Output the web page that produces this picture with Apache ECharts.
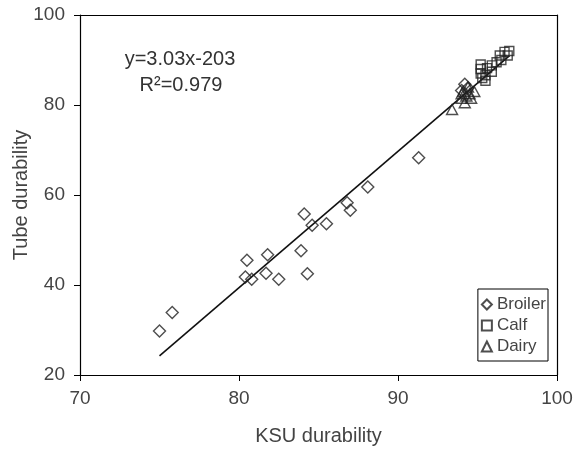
<!DOCTYPE html>
<html><head><meta charset="utf-8">
<script src="https://cdn.jsdelivr.net/npm/echarts@6/dist/echarts.min.js"></script>
<style>html,body{margin:0;padding:0;background:#fff}#c{width:573px;height:449px}</style>
</head><body><div id="c"></div>
<script>
// KSU durability (x), Tube durability (y)
const broiler = [
  [75.0,29.8],[75.8,33.9],[80.4,41.8],[80.5,45.5],[80.8,41.3],[81.8,46.7],[81.7,42.6],
  [82.5,41.3],[83.9,47.6],[84.3,42.5],[84.1,55.8],[84.6,53.3],[85.5,53.6],[86.8,58.3],
  [87.0,56.6],[88.1,61.8],[91.3,68.3],[94.2,84.6],[94.4,83.8],[94.0,83.2]
];
const calf = [
  [95.2,89.0],[95.2,88.0],[95.2,87.0],[95.3,86.0],[95.5,85.4],[95.6,88.2],[95.9,88.8],
  [95.9,87.4],[96.2,89.5],[96.4,91.0],[96.5,90.0],[96.7,91.8],[96.9,91.0],[97.0,92.0],[95.5,86.6]
];
const dairy = [
  [93.4,79.0],[94.2,80.5],[94.0,81.5],[94.3,82.0],[94.1,83.0],[94.5,82.5],[94.4,84.0],
  [94.6,81.5],[94.0,82.5],[94.8,83.0]
];
const slope = 3.03, intercept = -203;
const fitX = [75, 97];
const xTicks = {min:70, max:100, interval:10};
const yTicks = {min:20, max:100, interval:20};
const eqText = 'y=3.03x-203';
const r2Text = 'R\u00b2=0.979';

const fitLine = fitX.map(x => [x, slope*x + intercept]);
const FONT = '"Liberation Sans", Arial, sans-serif';
const hollow = {color:'rgba(0,0,0,0)', borderColor:'#222', borderWidth:1.4};
const chart = echarts.init(document.getElementById('c'));
const axisCommon = {
  axisLine:{show:true, onZero:false, lineStyle:{color:'#000', width:1.2}},
  splitLine:{show:false}
};
chart.setOption({
  animation:false,
  textStyle:{fontFamily:FONT},
  grid:{left:80, right:16, top:15, bottom:74, containLabel:false, outerBoundsMode:'none'},
  xAxis:[
    Object.assign({type:'value', min:xTicks.min, max:xTicks.max, interval:xTicks.interval,
      name:'KSU durability', nameLocation:'middle', nameGap:51, nameMoveOverlap:false,
      nameTextStyle:{fontSize:20, color:'#444', fontFamily:FONT},
      axisTick:{show:true, length:6, inside:false, lineStyle:{color:'#000'}},
      axisLabel:{margin:14, fontSize:19, color:'#444', fontFamily:FONT}}, axisCommon),
    Object.assign({type:'value', position:'top', min:xTicks.min, max:xTicks.max,
      axisTick:{show:false}, axisLabel:{show:false}}, axisCommon)
  ],
  yAxis:[
    Object.assign({type:'value', min:yTicks.min, max:yTicks.max, interval:yTicks.interval,
      name:'Tube durability', nameLocation:'middle', nameGap:49, nameMoveOverlap:false,
      nameTextStyle:{fontSize:20, color:'#444', fontFamily:FONT},
      axisTick:{show:true, length:6, inside:false, lineStyle:{color:'#000'}},
      axisLabel:{margin:15, fontSize:19, color:'#444', fontFamily:FONT}}, axisCommon),
    Object.assign({type:'value', position:'right', min:yTicks.min, max:yTicks.max,
      axisTick:{show:false}, axisLabel:{show:false}}, axisCommon)
  ],
  legend:{
    orient:'vertical', right:25, bottom:88,
    data:['Broiler','Calf','Dairy'],
    borderColor:'#000', borderWidth:1, padding:[5,2,4,3],
    itemWidth:10, itemHeight:10, itemGap:0,
    textStyle:{fontSize:17, lineHeight:21, color:'#444', fontFamily:FONT}
  },
  series:[
    {name:'Fit', type:'line', data:fitLine, showSymbol:false, symbol:'none',
      lineStyle:{color:'#111', width:1.6}, z:1, silent:true},
    {name:'Broiler', type:'scatter', symbol:'diamond', symbolSize:[12,12], data:broiler, itemStyle:hollow, z:3},
    {name:'Calf', type:'scatter', symbol:'rect', symbolSize:9, data:calf, itemStyle:hollow, z:3},
    {name:'Dairy', type:'scatter', symbol:'triangle', symbolSize:[11,10], data:dairy, itemStyle:hollow, z:3}
  ],
  graphic:[
    {type:'text', style:{text:eqText, x:180, y:59, align:'center', verticalAlign:'middle', font:'20px '+FONT, fill:'#333'}},
    {type:'text', style:{text:r2Text, x:181, y:85, align:'center', verticalAlign:'middle', font:'20px '+FONT, fill:'#333'}}
  ]
});
</script></body></html>
